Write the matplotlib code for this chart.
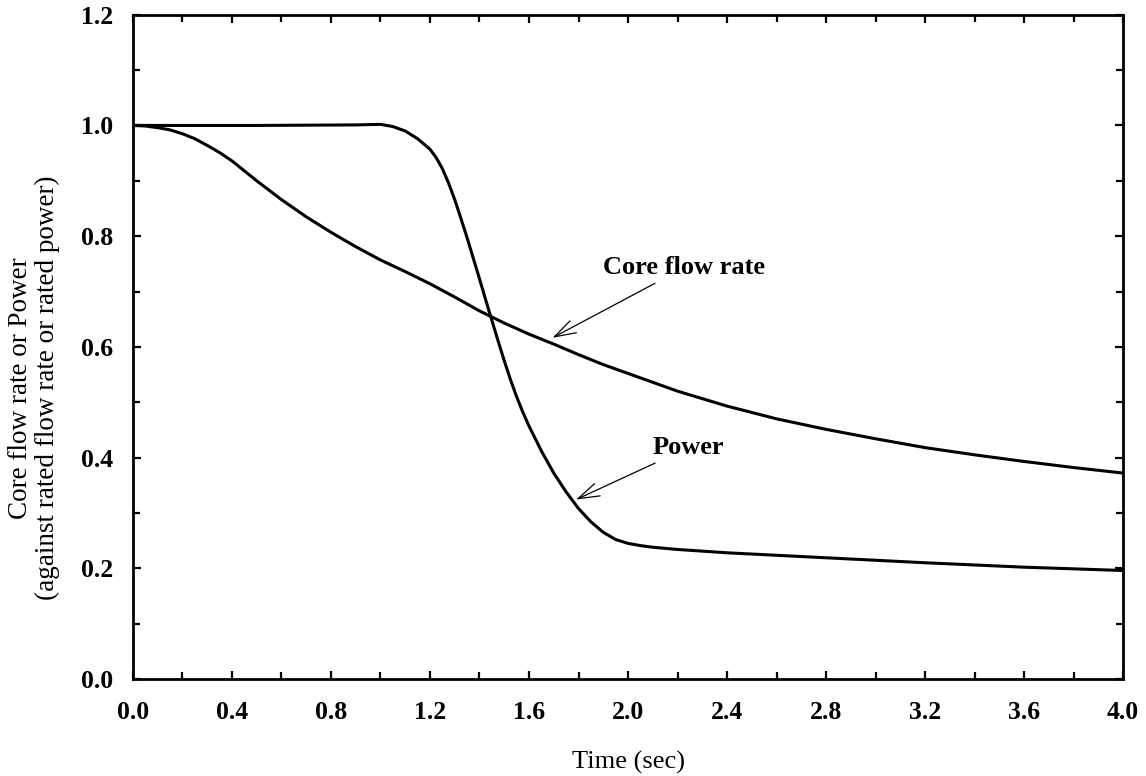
"""Core flow rate and power vs time after pump trip."""
import matplotlib as mpl
import matplotlib.pyplot as plt
import numpy as np
from matplotlib.ticker import MultipleLocator

# core flow rate (fraction of rated)
flow_t = np.array([0.0, 0.05, 0.1, 0.15, 0.2, 0.25, 0.3, 0.35, 0.4, 0.45, 0.5,
                   0.6, 0.7, 0.8, 0.9, 1.0, 1.1, 1.2, 1.3, 1.4, 1.5, 1.6, 1.7,
                   1.8, 1.9, 2.0, 2.2, 2.4, 2.6, 2.8, 3.0, 3.2, 3.4, 3.6, 3.8,
                   4.0])
flow = np.array([1.000, 0.999, 0.996, 0.992, 0.985, 0.976, 0.964, 0.951, 0.936,
                 0.918, 0.900, 0.866, 0.835, 0.807, 0.781, 0.757, 0.736, 0.714,
                 0.690, 0.665, 0.643, 0.623, 0.605, 0.586, 0.568, 0.552, 0.520,
                 0.493, 0.470, 0.451, 0.434, 0.418, 0.405, 0.393, 0.382, 0.372])

# power (fraction of rated)
power_t = np.array([0.0, 0.5, 0.9, 1.0, 1.05, 1.1, 1.15, 1.2, 1.225, 1.25, 1.275,
                    1.3, 1.325, 1.35, 1.375, 1.4, 1.425, 1.45, 1.475, 1.5, 1.525,
                    1.55, 1.575, 1.6, 1.65, 1.7, 1.75, 1.8, 1.85, 1.9, 1.95, 2.0,
                    2.05, 2.1, 2.2, 2.4, 2.8, 3.2, 3.6, 4.0])
power = np.array([1.000, 1.000, 1.001, 1.002, 0.998, 0.990, 0.976, 0.957, 0.942,
                  0.922, 0.896, 0.866, 0.832, 0.797, 0.760, 0.723, 0.685, 0.648,
                  0.611, 0.575, 0.541, 0.510, 0.482, 0.457, 0.412, 0.372, 0.338,
                  0.308, 0.284, 0.265, 0.252, 0.245, 0.241, 0.238, 0.234, 0.228,
                  0.219, 0.210, 0.202, 0.196])

mpl.rcParams.update({
    "font.family": "serif",
    "font.serif": ["Liberation Serif", "DejaVu Serif"],
    "axes.linewidth": 2.0,
})

fig = plt.figure(figsize=(11.46, 7.76), dpi=100)
ax = fig.add_axes([0.116, 0.125, 0.864, 0.856])

ax.plot(flow_t, flow, color="black", lw=2.2)
ax.plot(power_t, power, color="black", lw=2.2)

ax.set_xlim(0, 4.0)
ax.set_ylim(0, 1.2)
ax.xaxis.set_major_locator(MultipleLocator(0.4))
ax.xaxis.set_minor_locator(MultipleLocator(0.2))
ax.yaxis.set_major_locator(MultipleLocator(0.2))
ax.yaxis.set_minor_locator(MultipleLocator(0.1))
ax.xaxis.set_major_formatter(lambda v, pos: f"{v:.1f}")
ax.yaxis.set_major_formatter(lambda v, pos: f"{v:.1f}")
ax.tick_params(which="both", direction="in", top=True, right=True,
               width=1.6, labelsize=18.5)
ax.tick_params(axis="x", pad=16)
ax.tick_params(axis="y", pad=14)
ax.tick_params(which="major", length=6)
ax.tick_params(which="minor", length=5)
for lab in ax.get_xticklabels() + ax.get_yticklabels():
    lab.set_fontweight("bold")

ax.set_xlabel("Time (sec)", fontsize=19, labelpad=19)
fig.text(0.030, 1 - 388 / 776,
         "Core flow rate or Power\n(against rated flow rate or rated power)",
         rotation=90, ha="center", va="center", fontsize=19.5, linespacing=1.1)

arrow = dict(arrowstyle="->, head_length=0.7, head_width=0.22", color="black",
             lw=0.9, mutation_scale=22)
ax.annotate("Core flow rate", xy=(1.685, 0.614), xytext=(1.9, 0.743),
            fontsize=19, fontweight="bold", ha="left", va="center",
            arrowprops=arrow)
ax.annotate("Power", xy=(1.78, 0.322), xytext=(2.1, 0.418),
            fontsize=19, fontweight="bold", ha="left", va="center",
            arrowprops=arrow)

fig.savefig("out.png", dpi=100)
